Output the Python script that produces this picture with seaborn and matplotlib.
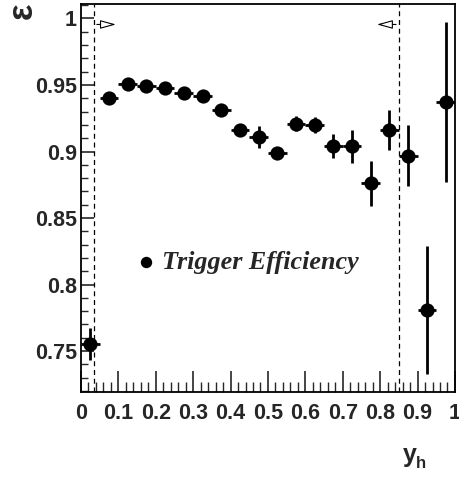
import numpy as np
import pandas as pd
import matplotlib
matplotlib.use('Agg')
import matplotlib.pyplot as plt
import seaborn as sns
from matplotlib.ticker import MultipleLocator
from matplotlib.font_manager import FontProperties

sns.set_theme(style='ticks')
plt.rcParams['font.family'] = ['Liberation Sans', 'DejaVu Sans']
plt.rcParams['font.weight'] = 'bold'

# y_h bin centres (bin width 0.05)
y_h = [0.025, 0.075, 0.125, 0.175, 0.225, 0.275, 0.325, 0.375, 0.425, 0.475,
       0.525, 0.575, 0.625, 0.675, 0.725, 0.775, 0.825, 0.875, 0.925, 0.975]
eff = [0.755, 0.940, 0.951, 0.949, 0.948, 0.944, 0.942, 0.931, 0.916, 0.911,
       0.899, 0.921, 0.920, 0.904, 0.904, 0.876, 0.916, 0.897, 0.781, 0.937]
eff_err = [0.012, 0.002, 0.002, 0.002, 0.002, 0.002, 0.002, 0.003, 0.003, 0.008,
           0.004, 0.0055, 0.006, 0.009, 0.0125, 0.017, 0.015, 0.023, 0.048, 0.060]
bin_half = [0.025] * len(y_h)

# kinematic cut range
cut_lo = 0.035
cut_hi = 0.85
arrow_y = 0.9955
arrow_len = 0.066

df = pd.DataFrame({'y_h': y_h, 'eff': eff})

fig = plt.figure(figsize=(4.6, 4.8), dpi=100)
ax = fig.add_axes([0.176, 0.184, 0.813, 0.808])

ax.errorbar(y_h, eff, xerr=bin_half, yerr=eff_err, fmt='none',
            ecolor='black', elinewidth=2, capsize=0, zorder=2)
sns.scatterplot(data=df, x='y_h', y='eff', ax=ax, color='black', s=105,
                edgecolor='black', linewidth=0, zorder=3, label='Trigger Efficiency')

for xc in (cut_lo, cut_hi):
    ax.axvline(xc, color='black', lw=0.9, ls=(0, (4, 3)), zorder=1)
ax.annotate('', xy=(cut_lo + arrow_len, arrow_y), xytext=(cut_lo, arrow_y),
            arrowprops=dict(arrowstyle='-|>,head_length=0.8,head_width=0.22',
                            fc='white', ec='black', lw=0.8))
ax.annotate('', xy=(cut_hi - arrow_len, arrow_y), xytext=(cut_hi, arrow_y),
            arrowprops=dict(arrowstyle='-|>,head_length=0.8,head_width=0.22',
                            fc='white', ec='black', lw=0.8))

ax.set_xlim(0, 1)
ax.set_ylim(0.7195, 1.011)
ax.xaxis.set_minor_locator(MultipleLocator(0.02))
ax.yaxis.set_minor_locator(MultipleLocator(0.01))
ax.set_xticks(np.arange(0, 1.01, 0.1))
ax.set_xticklabels(['0', '0.1', '0.2', '0.3', '0.4', '0.5', '0.6', '0.7', '0.8', '0.9', '1'])
ax.set_yticks([0.75, 0.8, 0.85, 0.9, 0.95, 1.0])
ax.set_yticklabels(['0.75', '0.8', '0.85', '0.9', '0.95', '1'])

ax.tick_params(axis='x', which='major', direction='in', length=15, width=1.2,
               labelsize=15.5, pad=8, top=False)
ax.tick_params(axis='x', which='minor', direction='in', length=7, width=1, top=False)
ax.tick_params(axis='y', which='major', direction='in', length=9, width=1.2,
               labelsize=15.5, pad=3, right=False)
ax.tick_params(axis='y', which='minor', direction='in', length=5, width=1, right=False)
for lab in ax.get_xticklabels() + ax.get_yticklabels():
    lab.set_fontweight('bold')
for sp in ax.spines.values():
    sp.set_linewidth(1.3)
    sp.set_color('black')

ax.set_xlabel('')
ax.set_ylabel('')
fig.text(410 / 460, 1 - 455 / 480, 'y', fontsize=18, fontweight='bold', ha='center', va='center')
fig.text(421 / 460, 1 - 463 / 480, 'h', fontsize=12, fontweight='bold', ha='center', va='center')
fig.text(22 / 460, 1 - 11 / 480, 'ε', fontsize=25, fontweight='bold', rotation=90,
         ha='center', va='center')

leg_font = FontProperties(family=['Liberation Serif', 'DejaVu Serif'], style='italic',
                          weight='bold', size=18.8)
ax.legend(loc='center left', bbox_to_anchor=(0.151, 0.3345), frameon=False,
          borderpad=0, borderaxespad=0, handlelength=0.65, handletextpad=0.28,
          markerscale=0.8, prop=leg_font)

fig.savefig('out.png', dpi=100)
